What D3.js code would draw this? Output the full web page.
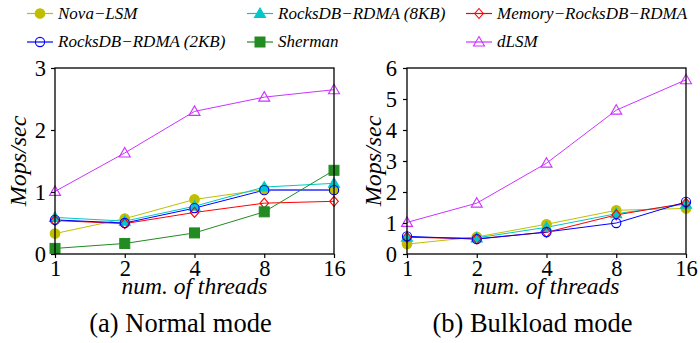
<!DOCTYPE html>
<html>
<head>
<meta charset="utf-8">
<script src="https://cdn.jsdelivr.net/npm/d3@7"></script>
<style>
  body { margin: 0; background: #fff; }
</style>
</head>
<body>
<svg id="chart" width="700" height="343"></svg>
<script>
const threads = [1, 2, 4, 8, 16];
const seriesNames = ["Nova\u2212LSM", "RocksDB\u2212RDMA (8KB)", "Memory\u2212RocksDB\u2212RDMA",
  "RocksDB\u2212RDMA (2KB)", "Sherman", "dLSM"];

// normal mode (Mops/sec)
const normalNova = [0.33, 0.57, 0.88, 1.04, 1.04];
const normal8KB = [0.59, 0.53, 0.77, 1.08, 1.14];
const normalMemory = [0.54, 0.49, 0.67, 0.82, 0.85];
const normal2KB = [0.55, 0.50, 0.74, 1.03, 1.03];
const normalSherman = [0.09, 0.17, 0.34, 0.68, 1.35];
const normalDLSM = [1.01, 1.63, 2.30, 2.53, 2.65];

// bulkload mode (Mops/sec)
const bulkNova = [0.32, 0.55, 0.96, 1.41, 1.47];
const bulk8KB = [0.54, 0.52, 0.86, 1.30, 1.61];
const bulkMemory = [0.54, 0.49, 0.70, 1.26, 1.64];
const bulk2KB = [0.57, 0.48, 0.71, 1.00, 1.68];
const bulkDLSM = [1.02, 1.64, 2.93, 4.64, 5.62];

const normalTicks = [0, 1, 2, 3];
const bulkTicks = [0, 1, 2, 3, 4, 5, 6];

const style = {
  "Nova\u2212LSM": { color: "#bfbf00", marker: "circle", fill: true },
  "RocksDB\u2212RDMA (8KB)": { color: "#00c8c8", marker: "triangle", fill: true },
  "Memory\u2212RocksDB\u2212RDMA": { color: "#ff0000", marker: "diamond", fill: false },
  "RocksDB\u2212RDMA (2KB)": { color: "#0000ff", marker: "circle", fill: false },
  "Sherman": { color: "#228b22", marker: "square", fill: true },
  "dLSM": { color: "#cc33ff", marker: "triangle", fill: false }
};

const FONT = "'Liberation Serif', 'Times New Roman', serif";
const svg = d3.select("#chart");

function drawMarker(g, name, cx, cy) {
  const s = style[name];
  const fill = s.fill ? s.color : "none";
  if (s.marker === "circle") {
    g.append("circle").attr("cx", cx).attr("cy", cy).attr("r", s.fill ? 4.8 : 4.6)
      .attr("fill", fill).attr("stroke", s.color).attr("stroke-width", 1.1);
  } else if (s.marker === "square") {
    g.append("rect").attr("x", cx - 5).attr("y", cy - 5).attr("width", 10).attr("height", 10)
      .attr("fill", fill).attr("stroke", s.color);
  } else if (s.marker === "diamond") {
    g.append("path").attr("d", `M${cx},${cy - 5}L${cx + 4.3},${cy}L${cx},${cy + 5}L${cx - 4.3},${cy}Z`)
      .attr("fill", fill).attr("stroke", s.color).attr("stroke-width", 1.1);
  } else {
    g.append("path").attr("d", `M${cx},${cy - 5.5}L${cx + 5.5},${cy + 4}L${cx - 5.5},${cy + 4}Z`)
      .attr("fill", fill).attr("stroke", s.color).attr("stroke-width", 1.1);
  }
}

function panel(left, right, yMax, ticks, series, caption, labelX, yPad) {
  const top = 68, bottom = 254;
  const x = d3.scaleLog().base(2).domain([1, 16]).range([left, right]);
  const y = d3.scaleLinear().domain([0, yMax]).range([bottom, top]);
  const g = svg.append("g");

  const lineGen = d3.line().x((d, i) => x(threads[i])).y(d => y(d));
  series.forEach(([name, vals]) => {
    g.append("path").datum(vals).attr("d", lineGen)
      .attr("fill", "none").attr("stroke", style[name].color).attr("stroke-width", 1);
  });
  series.forEach(([name, vals]) => {
    vals.forEach((v, i) => drawMarker(g, name, x(threads[i]), y(v)));
  });

  // frame
  g.append("rect").attr("x", left).attr("y", top).attr("width", right - left).attr("height", bottom - top)
    .attr("fill", "none").attr("stroke", "#000").attr("stroke-width", 1.3);

  const yAxis = g.append("g").attr("transform", `translate(${left},0)`)
    .call(d3.axisLeft(y).tickValues(ticks).tickSize(4).tickPadding(yPad).tickFormat(d3.format("d")));
  const xAxis = g.append("g").attr("transform", `translate(0,${bottom})`)
    .call(d3.axisBottom(x).tickValues(threads).tickSize(4).tickPadding(2).tickFormat(d => d));
  [yAxis, xAxis].forEach(a => {
    a.attr("font-family", FONT).attr("font-size", 22.5);
    a.select(".domain").remove();
    a.selectAll("line").attr("stroke", "#000").attr("stroke-width", 1.2);
    a.selectAll("text").attr("fill", "#000");
  });
  yAxis.selectAll("text").attr("dy", "0.34em");

  g.append("text").attr("transform", `translate(${labelX},${161}) rotate(-90)`)
    .attr("text-anchor", "middle").attr("font-family", FONT).attr("font-style", "italic").attr("font-size", 24)
    .text("Mops/sec");
  g.append("text").attr("x", (left + right) / 2).attr("y", 294)
    .attr("text-anchor", "middle").attr("font-family", FONT).attr("font-style", "italic").attr("font-size", 23.5)
    .text("num. of threads");
  g.append("text").attr("x", (left + right) / 2 - 14).attr("y", 332)
    .attr("text-anchor", "middle").attr("font-family", FONT).attr("font-size", 26.5)
    .text(caption);
}

panel(55, 334, 3, normalTicks, [
  [seriesNames[0], normalNova], [seriesNames[1], normal8KB], [seriesNames[2], normalMemory],
  [seriesNames[3], normal2KB], [seriesNames[4], normalSherman], [seriesNames[5], normalDLSM]
], "(a) Normal mode", 26, 5);

panel(407, 686, 6, bulkTicks, [
  [seriesNames[0], bulkNova], [seriesNames[1], bulk8KB], [seriesNames[2], bulkMemory],
  [seriesNames[3], bulk2KB], [seriesNames[5], bulkDLSM]
], "(b) Bulkload mode", 381, 6);

// legend
const legendX = [27, 247, 466];
const legendY = [13.5, 42];
const leg = svg.append("g");
seriesNames.forEach((name, i) => {
  const lx = legendX[i % 3], ly = legendY[Math.floor(i / 3)];
  leg.append("line").attr("x1", lx).attr("x2", lx + 26).attr("y1", ly).attr("y2", ly)
    .attr("stroke", style[name].color).attr("stroke-width", 1.2);
  drawMarker(leg, name, lx + 13, ly);
  leg.append("text").attr("x", lx + 31).attr("y", ly + 5)
    .attr("font-family", FONT).attr("font-style", "italic").attr("font-size", 17).text(name);
});
</script>
</body>
</html>
